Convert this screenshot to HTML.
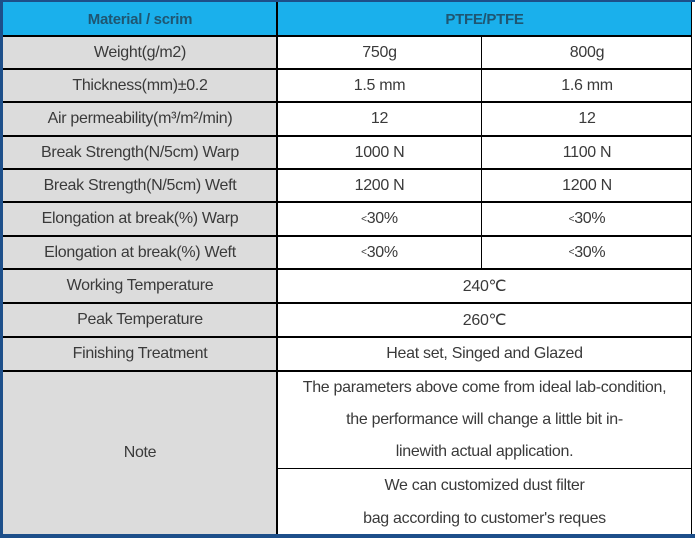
<!DOCTYPE html><html><head><style>
body{margin:0;width:695px;height:538px;background:#fff;position:relative;overflow:hidden;font-family:"Liberation Sans",sans-serif;}
.c{position:absolute;display:flex;align-items:center;justify-content:center;font-size:16px;color:#3a3a3a;box-sizing:border-box;text-align:center;letter-spacing:-0.3px;white-space:nowrap}
.g{background:#dcdcdc}
.h{position:absolute;background:#000}
</style></head><body>
<div style="position:absolute;left:0;top:0;width:695px;height:2px;background:#1d4f8a"></div>
<div style="position:absolute;left:0;top:534px;width:695px;height:4px;background:#1d4f8a"></div>
<div style="position:absolute;left:0;top:0;width:3px;height:538px;background:#1d4f8a"></div>
<div class="c" style="left:3px;top:2px;width:689px;height:34px;background:#1ab0ec"></div>
<div class="c" style="left:3px;top:2px;width:274px;height:34px;color:#1f5672;font-weight:bold;font-size:15px">Material / scrim</div>
<div class="c" style="left:277px;top:2px;width:415px;height:34px;color:#1f5672;font-weight:bold;font-size:15px">PTFE/PTFE</div>
<div class="g" style="position:absolute;left:3px;top:36px;width:274px;height:498px"></div>
<div class="c" style="left:3px;top:36px;width:274px;height:33px">Weight(g/m2)</div>
<div class="c" style="left:3px;top:69px;width:274px;height:33px">Thickness(mm)±0.2</div>
<div class="c" style="left:3px;top:102px;width:274px;height:34px">Air permeability(m³/m²/min)</div>
<div class="c" style="left:3px;top:136px;width:274px;height:33px">Break Strength(N/5cm) Warp</div>
<div class="c" style="left:3px;top:169px;width:274px;height:33px">Break Strength(N/5cm) Weft</div>
<div class="c" style="left:3px;top:202px;width:274px;height:34px">Elongation at break(%) Warp</div>
<div class="c" style="left:3px;top:236px;width:274px;height:33px">Elongation at break(%) Weft</div>
<div class="c" style="left:3px;top:269px;width:274px;height:34px">Working Temperature</div>
<div class="c" style="left:3px;top:303px;width:274px;height:34px">Peak Temperature</div>
<div class="c" style="left:3px;top:337px;width:274px;height:34px">Finishing Treatment</div>
<div class="c" style="left:3px;top:371px;width:274px;height:163px">Note</div>
<div class="c" style="left:277px;top:36px;width:205px;height:33px">750g</div>
<div class="c" style="left:482px;top:36px;width:210px;height:33px">800g</div>
<div class="c" style="left:277px;top:69px;width:205px;height:33px">1.5 mm</div>
<div class="c" style="left:482px;top:69px;width:210px;height:33px">1.6 mm</div>
<div class="c" style="left:277px;top:102px;width:205px;height:34px">12</div>
<div class="c" style="left:482px;top:102px;width:210px;height:34px">12</div>
<div class="c" style="left:277px;top:136px;width:205px;height:33px">1000 N</div>
<div class="c" style="left:482px;top:136px;width:210px;height:33px">1100 N</div>
<div class="c" style="left:277px;top:169px;width:205px;height:33px">1200 N</div>
<div class="c" style="left:482px;top:169px;width:210px;height:33px">1200 N</div>
<div class="c" style="left:277px;top:202px;width:205px;height:34px"><span style="font-size:10px">&lt;</span>30%</div>
<div class="c" style="left:482px;top:202px;width:210px;height:34px"><span style="font-size:10px">&lt;</span>30%</div>
<div class="c" style="left:277px;top:236px;width:205px;height:33px"><span style="font-size:10px">&lt;</span>30%</div>
<div class="c" style="left:482px;top:236px;width:210px;height:33px"><span style="font-size:10px">&lt;</span>30%</div>
<div class="c" style="left:277px;top:269px;width:415px;height:34px">240℃</div>
<div class="c" style="left:277px;top:303px;width:415px;height:34px">260℃</div>
<div class="c" style="left:277px;top:337px;width:415px;height:34px">Heat set, Singed and Glazed</div>
<div class="c" style="left:277px;top:371px;width:415px;height:98px;line-height:32px">The parameters above come from ideal lab-condition,<br>the performance will change a little bit in-<br>linewith actual application.</div>
<div class="c" style="left:277px;top:469px;width:415px;height:65px;line-height:33px">We can customized dust filter<br>bag according to customer's reques</div>
<div class="h" style="left:3px;top:35px;width:689px;height:2px"></div>
<div class="h" style="left:3px;top:68px;width:689px;height:2px"></div>
<div class="h" style="left:3px;top:101px;width:689px;height:2px"></div>
<div class="h" style="left:3px;top:135px;width:689px;height:2px"></div>
<div class="h" style="left:3px;top:168px;width:689px;height:2px"></div>
<div class="h" style="left:3px;top:201px;width:689px;height:2px"></div>
<div class="h" style="left:3px;top:235px;width:689px;height:2px"></div>
<div class="h" style="left:3px;top:268px;width:689px;height:2px"></div>
<div class="h" style="left:3px;top:302px;width:689px;height:2px"></div>
<div class="h" style="left:3px;top:336px;width:689px;height:2px"></div>
<div class="h" style="left:3px;top:370px;width:689px;height:2px"></div>
<div class="h" style="left:277px;top:468px;width:415px;height:1px"></div>
<div class="h" style="left:276px;top:2px;width:2px;height:532px"></div>
<div class="h" style="left:481px;top:36px;width:1px;height:233px"></div>
<div class="h" style="left:691px;top:2px;width:1px;height:532px"></div>
</body></html>
